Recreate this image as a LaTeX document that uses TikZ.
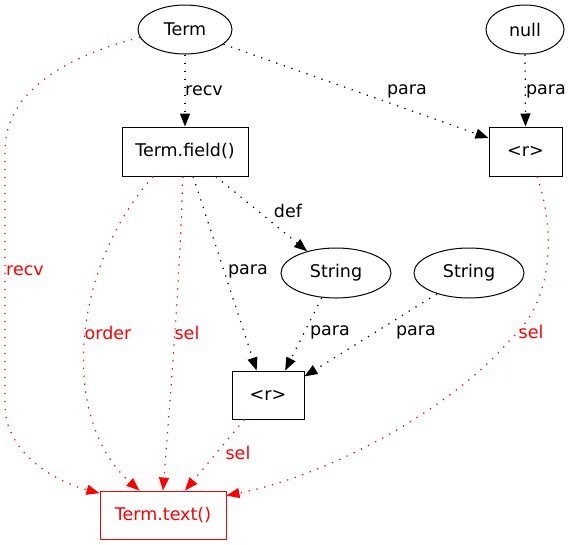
\documentclass[tikz,border=0pt]{standalone}
\usepackage{fontspec}
\setmainfont{DejaVu Sans}
\usetikzlibrary{arrows.meta,shapes.geometric}
\begin{document}
\begin{tikzpicture}[x=1pt,y=-1pt,
  font=\fontsize{17.5}{20}\selectfont,
  ell/.style={draw,ellipse,line width=1pt,minimum width=#1,minimum height=49pt,inner sep=0pt},
  box/.style={draw,rectangle,line width=1pt,minimum width=#1,minimum height=49pt,inner sep=0pt},
  edge/.style={line width=1.2pt,dash pattern=on 1.3pt off 6.7pt,-{Triangle[length=13pt,width=10pt]}},
  redge/.style={edge,red},
  lab/.style={inner sep=0pt},
  rlab/.style={inner sep=0pt,text=red}]
\useasboundingbox (0,0) rectangle (572,544);
\node[ell=94pt] (Term) at (185,29.5) {Term};
\node[ell=78pt] (null) at (525,29.5) {null};
\node[box=126pt] (field) at (185,151.5) {Term.field()};
\node[box=73pt] (rtop) at (525.5,151.5) {<r>};
\node[ell=110pt,minimum height=50pt] (s1) at (336,273) {String};
\node[ell=110pt,minimum height=50pt] (s2) at (469,273) {String};
\node[box=72pt,minimum height=48pt] (rmid) at (268,395) {<r>};
\node[box=126pt,minimum height=48pt,draw=red,text=red] (ttext) at (163,515) {Term.text()};

\draw[edge] (Term.south) -- (field.north);
\node[lab] at (204,91) {recv};
\draw[edge] (Term.-21) -- (rtop.160);
\node[lab] at (407,91) {para};
\draw[edge] (null.south) -- (rtop.north);
\node[lab] at (546,91) {para};
\draw[edge] (field.-39) -- (s1.143);
\node[lab] at (288,211) {def};
\draw[edge] (field.-72) -- (rmid.115);
\node[lab] at (248,271) {para};
\draw[edge] (s1.-120) -- (rmid.55);
\node[lab] at (330,332) {para};
\draw[edge] (s2.-147) -- (rmid.27);
\node[lab] at (416,332) {para};

\draw[redge] (Term.190) .. controls (70,55) and (5,90) .. (5,150) -- (5,405) .. controls (5,450) and (50,480) .. (ttext.161);
\node[rlab] at (25,271) {recv};
\draw[redge] (field.-142) .. controls (70,270) and (60,420) .. (ttext.134);
\node[rlab] at (108,333) {order};
\draw[redge] (field.-95) .. controls (180,280) and (170,400) .. (ttext.north);
\node[rlab] at (187,333) {sel};
\draw[redge] (rmid.-134) -- (ttext.48);
\node[rlab] at (238,453) {sel};
\draw[redge] (rtop.-65) .. controls (555,230) and (555,300) .. (510,340) .. controls (450,410) and (330,475) .. (ttext.17);
\node[rlab] at (531,332) {sel};
\end{tikzpicture}
\end{document}
